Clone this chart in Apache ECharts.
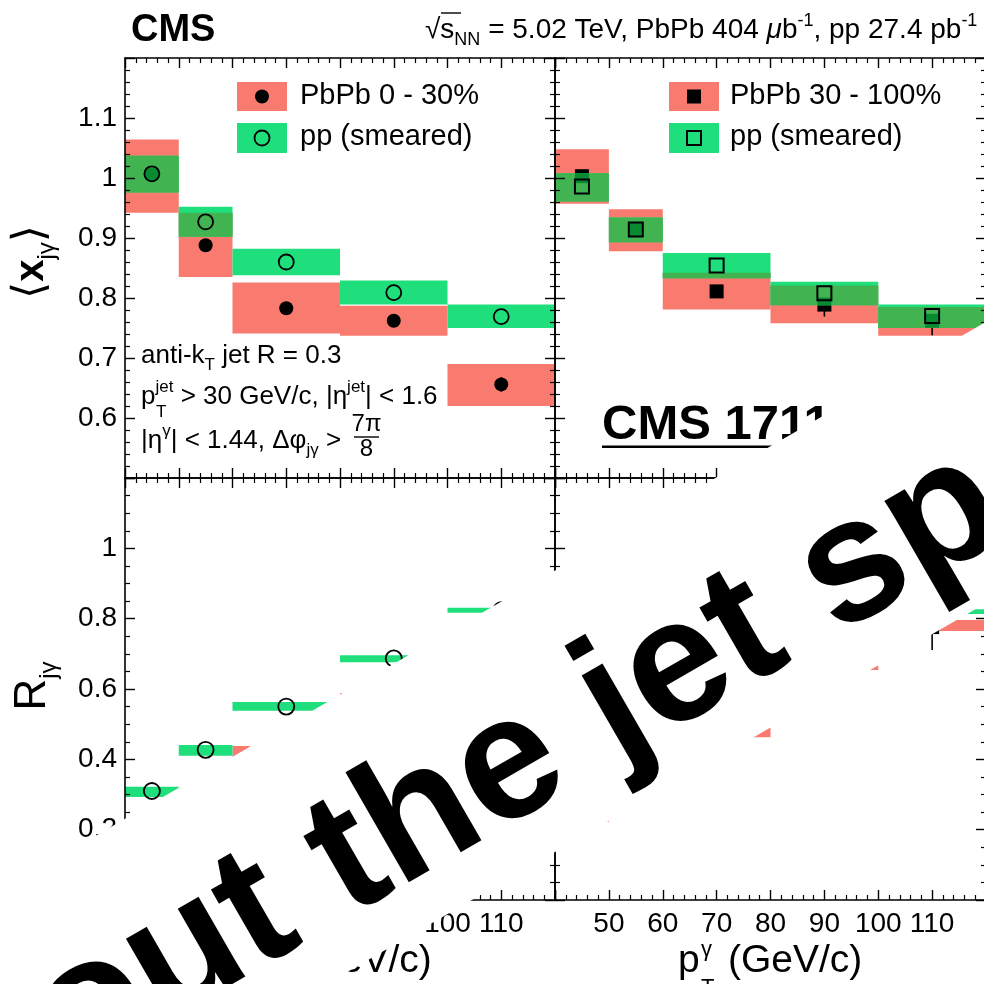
<!DOCTYPE html>
<html><head><meta charset="utf-8">
<script src="https://cdn.jsdelivr.net/npm/echarts@6/dist/echarts.min.js"></script>
<style>html,body{margin:0;padding:0;background:#fff}#c{width:984px;height:984px}</style>
</head><body><div id="c"></div>
<script>
// ---------- data ----------
const binLo = [40, 50, 60, 80, 100];
const binHi = [50, 60, 80, 100, 120];
const binCenter = [45, 55, 70, 90, 110];

// <x_jg>, PbPb 0-30% vs pp (smeared)
const xjgPbPbCent      = [1.006, 0.888, 0.783, 0.762, 0.656];
const xjgPbPbCentStat  = [0.008, 0.009, 0.009, 0.010, 0.012];
const xjgPbPbCentSysLo = [0.942, 0.835, 0.741, 0.737, 0.620];
const xjgPbPbCentSysHi = [1.064, 0.942, 0.826, 0.787, 0.690];
const xjgPpCent        = [1.007, 0.927, 0.860, 0.809, 0.769];
const xjgPpCentSysLo   = [0.976, 0.902, 0.838, 0.789, 0.750];
const xjgPpCentSysHi   = [1.037, 0.952, 0.882, 0.829, 0.789];

// <x_jg>, PbPb 30-100% vs pp (smeared)
const xjgPbPbPeri      = [1.003, 0.914, 0.811, 0.789, 0.762];
const xjgPbPbPeriStat  = [0.008, 0.008, 0.010, 0.020, 0.024];
const xjgPbPbPeriSysLo = [0.957, 0.878, 0.781, 0.758, 0.737];
const xjgPbPbPeriSysHi = [1.048, 0.948, 0.842, 0.821, 0.785];
const xjgPpPeri        = [0.986, 0.914, 0.854, 0.808, 0.770];
const xjgPpPeriSysLo   = [0.961, 0.893, 0.833, 0.788, 0.750];
const xjgPpPeriSysHi   = [1.008, 0.934, 0.875, 0.827, 0.789];

// R_jg, PbPb 0-30% vs pp (smeared)
const rPbPbCent      = [0.200, 0.290, 0.410, 0.560, 0.660];
const rPbPbCentStat  = [0.015, 0.015, 0.020, 0.025, 0.030];
const rPbPbCentSysLo = [0.180, 0.270, 0.382, 0.532, 0.620];
const rPbPbCentSysHi = [0.220, 0.310, 0.438, 0.588, 0.700];
const rPpCent        = [0.310, 0.427, 0.550, 0.687, 0.824];
const rPpCentSysLo   = [0.293, 0.410, 0.538, 0.676, 0.817];
const rPpCentSysHi   = [0.322, 0.441, 0.563, 0.696, 0.831];

// R_jg, PbPb 30-100% vs pp (smeared)
const rPbPbPeri      = [0.250, 0.360, 0.490, 0.685, 0.776];
const rPbPbPeriStat  = [0.030, 0.030, 0.040, 0.050, 0.065];
const rPbPbPeriSysLo = [0.222, 0.330, 0.463, 0.654, 0.765];
const rPbPbPeriSysHi = [0.278, 0.390, 0.517, 0.716, 0.796];
const rPpPeri        = [0.310, 0.430, 0.550, 0.690, 0.820];
const rPpPeriSysLo   = [0.295, 0.415, 0.537, 0.678, 0.813];
const rPpPeriSysHi   = [0.325, 0.445, 0.563, 0.700, 0.827];

// ---------- style ----------
const RED = '#f97a6f', GREEN = '#1fde7c', OVERLAP = '#41b451', DARK = '#078a30';
const FONT = '"Liberation Sans", Arial, Helvetica, sans-serif';

const grids = [
  {left:125, top:58, width:430, height:420},
  {left:555, top:58, width:431, height:420},
  {left:125, top:478, width:430, height:422},
  {left:555, top:478, width:431, height:422}
].map(g => Object.assign(g, {containLabel:false, outerBoundsMode:'none'}));

function makeX(g, pos, labels) {
  return {
    type:'value', gridIndex:g, position:pos, min:40, max:120, interval:10, z:10,
    axisLine:{show:true, onZero:false, lineStyle:{color:'#000', width:1.6}},
    axisTick:{show:true, inside:true, length:10, lineStyle:{color:'#000', width:1.4}},
    minorTick:{show:true, splitNumber:5, length:5, lineStyle:{color:'#000', width:1.2}},
    splitLine:{show:false}, minorSplitLine:{show:false},
    axisLabel:{show:labels, showMinLabel:false, showMaxLabel:false, color:'#000', fontSize:28, fontFamily:FONT, margin:10}
  };
}
function makeY(g, pos, labels) {
  const top = g < 2;
  return {
    type:'value', gridIndex:g, position:pos, min: top ? 0.5 : 0, max:1.2, interval: top ? 0.1 : 0.2, z:10,
    axisLine:{show:true, onZero:false, lineStyle:{color:'#000', width:1.6}},
    axisTick:{show:true, inside:true, length:10, lineStyle:{color:'#000', width:1.4}},
    minorTick:{show:true, splitNumber: top ? 5 : 4, length:5, lineStyle:{color:'#000', width:1.2}},
    splitLine:{show:false}, minorSplitLine:{show:false},
    axisLabel:{show:labels, showMinLabel:false, showMaxLabel:false, color:'#000', fontSize:28, fontFamily:FONT, margin:8,
      formatter: v => String(Math.round(v * 100) / 100)}
  };
}
const xAxes = [], yAxes = [];
for (let g = 0; g < 4; g++) {
  xAxes.push(makeX(g, 'bottom', g >= 2));
  xAxes.push(makeX(g, 'top', false));
  yAxes.push(makeY(g, 'left', g % 2 === 0));
  yAxes.push(makeY(g, 'right', false));
}

// ---------- series ----------
function panelSeries(p, pb, pbStat, pbLo, pbHi, pp, ppLo, ppHi, sym, ppR) {
  const ax = {xAxisIndex:2*p, yAxisIndex:2*p, silent:true, clip:true, animation:false};
  const H = 7;
  return [
    Object.assign({type:'custom', z:2,
      data: binLo.map((b,i)=>[b, binHi[i], pbLo[i], pbHi[i]]),
      encode:{x:[0,1], y:[2,3]},
      renderItem:(params, api) => {
        const a = api.coord([api.value(0), api.value(3)]);
        const b = api.coord([api.value(1), api.value(2)]);
        return {type:'rect', shape:{x:a[0], y:a[1], width:b[0]-a[0], height:b[1]-a[1]}, style:{fill:RED}};
      }}, ax),
    Object.assign({type:'custom', z:3,
      data: binCenter.map((c,i)=>[c, pb[i], pbStat[i]]),
      encode:{x:0, y:1},
      renderItem:(params, api) => {
        const x = api.value(0), v = api.value(1), s = api.value(2);
        const c = api.coord([x, v]);
        const e1 = api.coord([x, v - s]), e2 = api.coord([x, v + s]);
        const mk = sym === 'circle'
          ? {type:'circle', shape:{cx:c[0], cy:c[1], r:H}, style:{fill:'#000'}}
          : {type:'rect', shape:{x:c[0]-H, y:c[1]-H, width:2*H, height:2*H}, style:{fill:'#000'}};
        return {type:'group', children:[
          {type:'line', shape:{x1:e1[0], y1:e1[1], x2:e2[0], y2:e2[1]}, style:{stroke:'#000', lineWidth:1.6}},
          mk]};
      }}, ax),
    Object.assign({type:'custom', z:4,
      data: binLo.map((b,i)=>[b, binHi[i], ppLo[i], ppHi[i], pbLo[i], pbHi[i]]),
      encode:{x:[0,1], y:[2,3]},
      renderItem:(params, api) => {
        const x0 = api.value(0), x1 = api.value(1);
        const lo = api.value(2), hi = api.value(3), plo = api.value(4), phi = api.value(5);
        const a = api.coord([x0, hi]), b = api.coord([x1, lo]);
        const ch = [{type:'rect', shape:{x:a[0], y:a[1], width:b[0]-a[0], height:b[1]-a[1]}, style:{fill:GREEN}}];
        const olo = Math.max(lo, plo), ohi = Math.min(hi, phi);
        if (ohi > olo) {
          const c = api.coord([x0, ohi]), d = api.coord([x1, olo]);
          ch.push({type:'rect', shape:{x:c[0], y:c[1], width:d[0]-c[0], height:d[1]-c[1]}, style:{fill:OVERLAP}});
        }
        return {type:'group', children:ch};
      }}, ax),
    Object.assign({type:'custom', z:5,
      data: binCenter.map((c,i)=>[c, pb[i], ppLo[i], ppHi[i]]),
      encode:{x:0, y:1},
      renderItem:(params, api) => {
        const c = api.coord([api.value(0), api.value(1)]);
        const top = api.coord([api.value(0), api.value(3)])[1];
        const bot = api.coord([api.value(0), api.value(2)])[1];
        if (sym === 'circle') {
          if (c[1]-H >= top && c[1]+H <= bot) return {type:'circle', shape:{cx:c[0], cy:c[1], r:H}, style:{fill:DARK}};
          return null;
        }
        const y0 = Math.max(c[1]-H, top), y1 = Math.min(c[1]+H, bot);
        if (y1 <= y0) return null;
        return {type:'rect', shape:{x:c[0]-H, y:y0, width:2*H, height:y1-y0}, style:{fill:DARK}};
      }}, ax),
    Object.assign({type:'custom', z:6,
      data: binCenter.map((c,i)=>[c, pp[i]]),
      encode:{x:0, y:1},
      renderItem:(params, api) => {
        const c = api.coord([api.value(0), api.value(1)]);
        if (sym === 'circle') return {type:'circle', shape:{cx:c[0], cy:c[1], r:ppR}, style:{fill:'none', stroke:'#000', lineWidth:1.8}};
        return {type:'rect', shape:{x:c[0]-H, y:c[1]-H, width:2*H, height:2*H}, style:{fill:'none', stroke:'#000', lineWidth:2}};
      }}, ax)
  ];
}

const series = [].concat(
  panelSeries(0, xjgPbPbCent, xjgPbPbCentStat, xjgPbPbCentSysLo, xjgPbPbCentSysHi, xjgPpCent, xjgPpCentSysLo, xjgPpCentSysHi, 'circle', 7.5),
  panelSeries(1, xjgPbPbPeri, xjgPbPbPeriStat, xjgPbPbPeriSysLo, xjgPbPbPeriSysHi, xjgPpPeri, xjgPpPeriSysLo, xjgPpPeriSysHi, 'square', 7),
  panelSeries(2, rPbPbCent, rPbPbCentStat, rPbPbCentSysLo, rPbPbCentSysHi, rPpCent, rPpCentSysLo, rPpCentSysHi, 'circle', 8),
  panelSeries(3, rPbPbPeri, rPbPbPeriStat, rPbPbPeriSysLo, rPbPbPeriSysHi, rPpPeri, rPpPeriSysLo, rPpPeriSysHi, 'square', 7)
);

// ---------- texts & decorations ----------
function T(x, y, text, o) {
  o = o || {};
  const st = {text:text, fill:'#000', font:o.font || ('26px ' + FONT),
    textAlign:o.align || 'left', textVerticalAlign:o.va || 'middle'};
  if (o.rich) st.rich = o.rich;
  return {type:'text', x:x, y:y, rotation:o.rotation || 0, z:o.z || 60, silent:true, style:st};
}
const sub = (fs) => ({fontSize:fs, fontFamily:FONT, lineHeight:fs, verticalAlign:'bottom'});
const sup = (fs) => ({fontSize:fs, fontFamily:FONT, lineHeight:fs, verticalAlign:'top'});
const main = (fs, lh, extra) => Object.assign({fontSize:fs, fontFamily:FONT, lineHeight:lh}, extra || {});

const graphics = [];
// header
graphics.push(T(131, 31, 'CMS', {font:'bold 38px ' + FONT}));
graphics.push(T(425, 30.6, '{a|√}{a|s}{sb|NN}{a| = 5.02 TeV, PbPb 404 }{mu|μ}{a|b}{sp|-1}{a|, pp 27.4 pb}{sp|-1}', {
  font:'28px ' + FONT,
  rich:{a:main(28, 37), mu:main(28, 37, {fontStyle:'italic'}), sb:sub(18), sp:sup(18)}}));
graphics.push({type:'line', z:60, silent:true, shape:{x1:441, y1:13, x2:461, y2:13}, style:{stroke:'#000', lineWidth:1.4}});

// y titles
graphics.push(T(32, 262, '{br|⟨}{x|x}{sb|jγ}{br|⟩}', {align:'center', rotation:Math.PI/2,
  rich:{br:{fontSize:44, fontFamily:'"DejaVu Sans"', lineHeight:54}, x:main(40, 54, {fontWeight:'bold'}), sb:sub(24)}}));
graphics.push(T(33, 686, '{r|R}{sb|jγ}', {align:'center', rotation:Math.PI/2,
  rich:{r:main(44, 56), sb:sub(24)}}));

// x titles
[340, 770.5].forEach(cx => {
  graphics.push(T(cx - 92.5, 961.5, 'p', {font:'39px ' + FONT}));
  graphics.push(T(cx - 69.5, 950, 'γ', {font:'22px ' + FONT}));
  graphics.push(T(cx - 69.5, 988, 'T', {font:'22px ' + FONT}));
  graphics.push(T(cx - 42.5, 961.5, '(GeV/c)', {font:'39px ' + FONT}));
});

// legends
graphics.push({type:'rect', z:60, silent:true, shape:{x:237, y:82, width:50, height:29}, style:{fill:RED}});
graphics.push({type:'circle', z:61, silent:true, shape:{cx:262, cy:96.5, r:7}, style:{fill:'#000'}});
graphics.push({type:'rect', z:60, silent:true, shape:{x:237, y:123, width:50, height:30}, style:{fill:GREEN}});
graphics.push({type:'circle', z:61, silent:true, shape:{cx:262, cy:138, r:7.5}, style:{fill:'none', stroke:'#000', lineWidth:1.8}});
graphics.push(T(300, 96, 'PbPb 0 - 30%', {font:'29px ' + FONT}));
graphics.push(T(300, 137, 'pp (smeared)', {font:'29px ' + FONT}));

graphics.push({type:'rect', z:60, silent:true, shape:{x:669, y:82, width:50, height:29}, style:{fill:RED}});
graphics.push({type:'rect', z:61, silent:true, shape:{x:687, y:89.5, width:14, height:14}, style:{fill:'#000'}});
graphics.push({type:'rect', z:60, silent:true, shape:{x:669, y:123, width:50, height:30}, style:{fill:GREEN}});
graphics.push({type:'rect', z:61, silent:true, shape:{x:687, y:131, width:14, height:14}, style:{fill:'none', stroke:'#000', lineWidth:2}});
graphics.push(T(730, 96, 'PbPb 30 - 100%', {font:'29px ' + FONT}));
graphics.push(T(730, 137, 'pp (smeared)', {font:'29px ' + FONT}));

// selection annotations
const rA = {a:main(26, 36), sb:sub(17), sp:sup(17)};
graphics.push(T(141, 356, '{a|anti-k}{sb|T}{a| jet R = 0.3}', {rich:rA}));
graphics.push(T(141, 397, '{a|p}{sp|jet}{a| > 30 GeV/c, |η}{sp|jet}{a|| < 1.6}', {rich:rA}));
graphics.push(T(156, 412, 'T', {font:'17px ' + FONT}));
graphics.push(T(141, 441, '{a||η}{sp|γ}{a|| < 1.44, Δφ}{sb|jγ}{a| >}', {rich:rA}));
graphics.push(T(366.5, 424.7, '7π', {font:'24px ' + FONT, align:'center'}));
graphics.push({type:'line', z:60, silent:true, shape:{x1:354, y1:437, x2:379, y2:437}, style:{stroke:'#000', lineWidth:1.4}});
graphics.push(T(366.5, 449.7, '8', {font:'24px ' + FONT, align:'center'}));

// underlined reference text
graphics.push(T(602, 425, 'CMS 1711.09738', {font:'bold 49px ' + FONT, z:70}));
graphics.push({type:'rect', z:70, silent:true, shape:{x:602, y:445.5, width:408, height:2.5}, style:{fill:'#000'}});

// big rotated overlay: white band, then text
graphics.push({type:'group', x:73.1, y:1064.8, rotation:Math.PI/6, z:100, silent:true, children:[
  {type:'rect', z:100, shape:{x:-900, y:-187, width:3000, height:243.7}, style:{fill:'#fff'}}
]});
graphics.push({type:'group', x:76.3, y:1088.4, rotation:Math.PI/6, z:101, silent:true, children:[
  {type:'text', z:101, x:0, y:-60.6, style:{text:'out the jet spectrum', fill:'#000',
    font:'bold 175px ' + FONT, textAlign:'left', textVerticalAlign:'middle'}}
]});

const chart = echarts.init(document.getElementById('c'), null, {renderer:'canvas', width:984, height:984});
chart.setOption({
  animation:false,
  backgroundColor:'#fff',
  grid:grids,
  xAxis:xAxes,
  yAxis:yAxes,
  series:series,
  graphic:{elements:graphics}
});
</script>
</body></html>
